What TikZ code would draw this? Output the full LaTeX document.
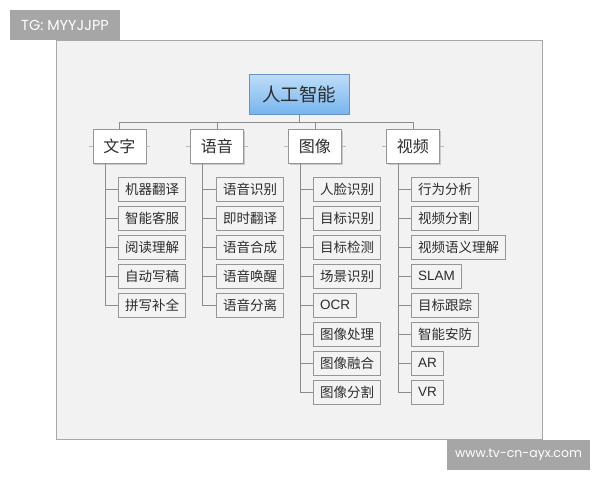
\documentclass[tikz,border=0pt]{standalone}
\usepackage{fontspec}
\newfontfamily\cjk{Noto Sans CJK SC}
\newfontfamily\lat{Liberation Sans}
\newfontfamily\wm{Poppins}
\usetikzlibrary{shadows}
\definecolor{panelfill}{RGB}{242,242,242}
\definecolor{panelline}{RGB}{168,168,168}
\definecolor{wmgray}{RGB}{166,166,166}
\definecolor{linegray}{RGB}{140,140,140}
\definecolor{boxline}{RGB}{150,150,150}
\definecolor{leaffill}{RGB}{243,243,243}
\definecolor{txt}{RGB}{45,45,45}
\definecolor{blueTop}{RGB}{190,220,248}
\definecolor{blueBot}{RGB}{118,180,238}
\definecolor{blueLine}{RGB}{105,145,195}
\tikzset{
  conn/.style={draw=linegray, line width=0.9pt},
  rootbox/.style={draw=blueLine, line width=0.9pt, top color=blueTop, bottom color=blueBot,
    font=\cjk\fontsize{18.5}{20}\selectfont, text=txt, minimum width=100, minimum height=40, inner sep=0},
  catbox/.style={draw=boxline, line width=0.9pt, fill=white, drop shadow={shadow xshift=1.5pt, shadow yshift=-1.5pt, opacity=.35},
    font=\cjk\fontsize{16}{18}\selectfont, text=txt, minimum width=53, minimum height=34, inner sep=0, anchor=west},
  leafbox/.style={draw=boxline, line width=1pt, fill=leaffill, font=\cjk\fontsize{13.5}{15}\selectfont, text=txt,
    inner xsep=6.5pt, inner ysep=0, minimum height=24, anchor=west},
  wmbox/.style={fill=wmgray, text=white, inner sep=0},
  stub/.style={draw=linegray!60, line width=0.6pt}
}
\begin{document}
\begin{tikzpicture}[x=1pt,y=-1pt]
\useasboundingbox (0,0) rectangle (600,480);
\fill[white] (0,0) rectangle (600,480);
% panel
\draw[panelline, fill=panelfill, line width=0.9pt] (56,40) rectangle (542.5,439);
% watermarks
\node[wmbox, minimum width=110, minimum height=30, font=\wm\fontsize{14.5}{16}\selectfont] (tg) at (65,25) {TG: MYYJJPP};
\node[wmbox, minimum width=143, minimum height=30, font=\wm\fontsize{12.5}{14}\selectfont] (www) at (518.5,455) {www.tv-cn-ayx.com};
% root
\node[rootbox] (ai) at (299,94.5) {人工智能};
% categories
\node[catbox] (wz) at (92.5,146) {文字};
\node[catbox] (yy) at (190,146) {语音};
\node[catbox] (tx) at (288,146) {图像};
\node[catbox] (sp) at (386,146) {视频};
\foreach \c in {wz,yy,tx,sp}{
  \draw[conn] (ai.south) -- ++(0,7.5) -| (\c.north);
  \draw[stub] (\c.west) -- ++(-4,0);
  \draw[stub] (\c.east) -- ++(4,0);
}
% leaves
\foreach \t [count=\i] in {机器翻译,智能客服,阅读理解,自动写稿,拼写补全}{
  \node[leafbox] (wz\i) at (118,160+29*\i) {\t};
  \draw[conn] ([xshift=12.5pt]wz.south west) |- (wz\i.west);
}
\foreach \t [count=\i] in {语音识别,即时翻译,语音合成,语音唤醒,语音分离}{
  \node[leafbox] (yy\i) at (216,160+29*\i) {\t};
  \draw[conn] ([xshift=12.5pt]yy.south west) |- (yy\i.west);
}
\foreach \t [count=\i] in {人脸识别,目标识别,目标检测,场景识别,{\lat OCR},图像处理,图像融合,图像分割}{
  \node[leafbox] (tx\i) at (313,160+29*\i) {\t};
  \draw[conn] ([xshift=12.5pt]tx.south west) |- (tx\i.west);
}
\foreach \t [count=\i] in {行为分析,视频分割,视频语义理解,{\lat SLAM},目标跟踪,智能安防,{\lat AR},{\lat VR}}{
  \node[leafbox] (sp\i) at (411,160+29*\i) {\t};
  \draw[conn] ([xshift=12.5pt]sp.south west) |- (sp\i.west);
}
\end{tikzpicture}
\end{document}
